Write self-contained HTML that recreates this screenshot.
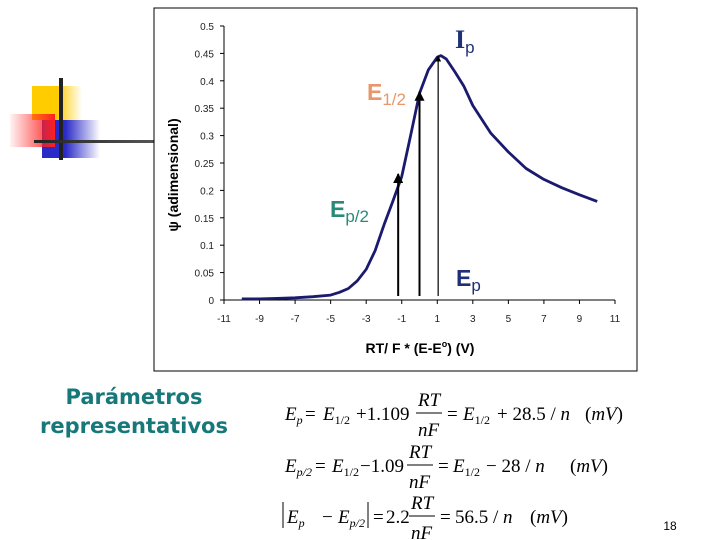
<!DOCTYPE html>
<html><head><meta charset="utf-8"><style>
html,body{margin:0;padding:0;background:#fff;}
svg{display:block;}
.eq{font-family:"Liberation Serif",serif;font-size:19px;fill:#000;}
.it{font-style:italic;}
</style></head><body>
<svg id="slide" width="720" height="540" viewBox="0 0 720 540" xmlns="http://www.w3.org/2000/svg">
<defs>
<linearGradient id="gy" x1="0" x2="1"><stop offset="0.5" stop-color="#ffcc00"/><stop offset="1" stop-color="#ffcc00" stop-opacity="0"/></linearGradient>
<linearGradient id="gb" x1="0" x2="1"><stop offset="0.4" stop-color="#2a2ac8"/><stop offset="1" stop-color="#2a2ac8" stop-opacity="0"/></linearGradient>
<linearGradient id="gr" x1="1" x2="0"><stop offset="0" stop-color="#ff2020"/><stop offset="1" stop-color="#ff2020" stop-opacity="0.05"/></linearGradient>
<linearGradient id="gl" x1="0" x2="1"><stop offset="0" stop-color="#222"/><stop offset="1" stop-color="#555"/></linearGradient>
<marker id="ah" viewBox="0 0 10 10" refX="9" refY="5" markerWidth="5" markerHeight="5" orient="auto"><path d="M0,0 L10,5 L0,10 z" fill="#000"/></marker>
</defs>
<g>
<rect x="32" y="86" width="50" height="34" fill="url(#gy)"/>
<rect x="42" y="120" width="58" height="38" fill="url(#gb)"/>
<rect x="10" y="114" width="45" height="33" fill="url(#gr)"/>
<rect x="59" y="78" width="4" height="82" fill="#222"/>
<rect x="34" y="140" width="120" height="3" fill="url(#gl)"/>
</g>
<rect x="154" y="8" width="483" height="363" fill="#fff" stroke="#000" stroke-width="1"/>
<g id="chart"></g>
<text x="178" y="175" transform="rotate(-90 178 175)" text-anchor="middle" font-family="Liberation Sans, sans-serif" font-weight="bold" font-size="14">ψ (adimensional)</text>
<text x="420" y="353" text-anchor="middle" font-family="Liberation Sans, sans-serif" font-weight="bold" font-size="14">RT/ F * (E-E<tspan dy="-6" font-size="9">o</tspan><tspan dy="6">) (V)</tspan></text>
<text x="455" y="48" font-family="Liberation Serif, serif" font-weight="bold" font-size="26" fill="#1f2f78">I<tspan font-family="Liberation Sans, sans-serif" font-size="17" dy="5" font-weight="normal">p</tspan></text>
<text x="367" y="100" font-family="Liberation Sans, sans-serif" font-weight="bold" font-size="23" fill="#e8976a">E<tspan font-size="17" dy="5" font-weight="normal">1/2</tspan></text>
<text x="330" y="217" font-family="Liberation Sans, sans-serif" font-weight="bold" font-size="23" fill="#2a8a7a">E<tspan font-size="17" dy="5" font-weight="normal">p/2</tspan></text>
<text x="456" y="286" font-family="Liberation Sans, sans-serif" font-weight="bold" font-size="23" fill="#1f2f78">E<tspan font-size="17" dy="5" font-weight="normal">p</tspan></text>
<g font-family="DejaVu Sans, sans-serif" font-weight="bold" font-size="21" fill="#17787a" text-anchor="middle">
<text x="134" y="404">Parámetros</text>
<text x="134" y="433">representativos</text>
</g>
<g class="eq">
<text y="420"><tspan x="285" class="it">E</tspan><tspan class="it" font-size="12" dy="4">p</tspan><tspan dy="-4" x="305">=</tspan><tspan x="323" class="it">E</tspan><tspan font-size="12" dy="4">1/2</tspan><tspan dy="-4" x="356">+1.109</tspan></text>
<text x="418" y="406" class="it">RT</text><line x1="416" y1="413" x2="442" y2="413" stroke="#000"/><text x="418" y="436" class="it">nF</text>
<text y="420"><tspan x="447">=</tspan><tspan x="463" class="it">E</tspan><tspan font-size="12" dy="4">1/2</tspan><tspan dy="-4" x="497">+ 28.5 / </tspan><tspan class="it">n</tspan><tspan x="585">(</tspan><tspan class="it">mV</tspan>)</text>
</g>
<g class="eq">
<text y="472"><tspan x="285" class="it">E</tspan><tspan class="it" font-size="12" dy="4">p/2</tspan><tspan dy="-4" x="315">=</tspan><tspan x="332" class="it">E</tspan><tspan font-size="12" dy="4">1/2</tspan><tspan dy="-4" x="360">−1.09</tspan></text>
<text x="409" y="458" class="it">RT</text><line x1="407" y1="465" x2="433" y2="465" stroke="#000"/><text x="409" y="488" class="it">nF</text>
<text y="472"><tspan x="438">=</tspan><tspan x="453" class="it">E</tspan><tspan font-size="12" dy="4">1/2</tspan><tspan dy="-4" x="486">− 28 / </tspan><tspan class="it">n</tspan><tspan x="570">(</tspan><tspan class="it">mV</tspan>)</text>
</g>
<g class="eq">
<line x1="283" y1="502" x2="283" y2="528" stroke="#000"/>
<text y="523"><tspan x="287" class="it">E</tspan><tspan class="it" font-size="12" dy="4">p</tspan><tspan dy="-4" x="322">−</tspan><tspan x="338" class="it">E</tspan><tspan class="it" font-size="12" dy="4">p/2</tspan></text>
<line x1="368" y1="502" x2="368" y2="528" stroke="#000"/>
<text x="373" y="523">=</text><text x="386" y="523">2.2</text>
<text x="411" y="509" class="it">RT</text><line x1="409" y1="516" x2="435" y2="516" stroke="#000"/><text x="411" y="539" class="it">nF</text>
<text y="523"><tspan x="440">=</tspan><tspan x="455">56.5 / </tspan><tspan class="it">n</tspan><tspan x="530">(</tspan><tspan class="it">mV</tspan>)</text>
</g>
<text x="670" y="530" font-family="Liberation Sans, sans-serif" font-size="12" text-anchor="middle">18</text>
</svg>
<script>
const xTicks = [-11,-9,-7,-5,-3,-1,1,3,5,7,9,11];
const yTicks = [0,0.05,0.1,0.15,0.2,0.25,0.3,0.35,0.4,0.45,0.5];
const yTickLabels = ["0","0.05","0.1","0.15","0.2","0.25","0.3","0.35","0.4","0.45","0.5"];
const curveX = [-10,-9,-8,-7,-6,-5,-4.5,-4,-3.5,-3,-2.5,-2,-1.5,-1,-0.5,0,0.5,1,1.2,1.5,2,2.5,3,4,5,6,7,8,9,10];
const curveY = [0.002,0.002,0.003,0.004,0.006,0.009,0.014,0.021,0.035,0.056,0.09,0.137,0.18,0.225,0.3,0.377,0.42,0.443,0.446,0.44,0.416,0.39,0.355,0.305,0.27,0.24,0.22,0.205,0.192,0.18];
const arrowX = [-1.2, 0, 1.05];
const arrowY = [0.23, 0.38, 0.445];

const X0=224, X1=615, Y0=300, Y1=26;
const sx = v => X0 + (v + 11) / 22 * (X1 - X0);
const sy = v => Y0 - v / 0.5 * (Y0 - Y1);
const NS = "http://www.w3.org/2000/svg";
const g = document.getElementById('chart');
function mk(tag, attrs){const e=document.createElementNS(NS,tag);for(const k in attrs)e.setAttribute(k,attrs[k]);g.appendChild(e);return e;}

const ya = mk('line',{x1:sx(-11),y1:sy(0.5),x2:sx(-11),y2:sy(0),stroke:'#000','stroke-width':1});


yTicks.forEach((t,i)=>{
  const tk = mk('line',{x1:sx(-11)-4,y1:sy(t),x2:sx(-11),y2:sy(t),stroke:'#000'});
  
  
  const tl = mk('text',{x:sx(-11)-10,y:sy(t)+4,'text-anchor':'end','font-family':'Liberation Sans, sans-serif','font-size':10,fill:'#222'});
  tl.textContent = yTickLabels[i];
  
  
});
const xa = mk('line',{x1:sx(-11),y1:sy(0),x2:sx(11),y2:sy(0),stroke:'#000','stroke-width':1});


xTicks.forEach(t=>{
  const tk = mk('line',{x1:sx(t),y1:sy(0),x2:sx(t),y2:sy(0)+4,stroke:'#000'});
  
  
  const tl = mk('text',{x:sx(t),y:sy(0)+22,'text-anchor':'middle','font-family':'Liberation Sans, sans-serif','font-size':10,fill:'#222'});
  tl.textContent = String(t);
  
  
});
let d='';
curveX.forEach((x,i)=>{d += (i?'L':'M') + sx(x).toFixed(1) + ',' + sy(curveY[i]).toFixed(1);});
const c = mk('path',{d:d,fill:'none',stroke:'#1a1a6e','stroke-width':2.8,'stroke-linejoin':'round'});


arrowX.forEach((x,i)=>{
  const a = mk('line',{x1:sx(x),y1:sy(0)-4,x2:sx(x),y2:sy(arrowY[i]),stroke:'#000','stroke-width':i==2?1.2:2,'marker-end':'url(#ah)'});
  
  
});
</script>
</body></html>
